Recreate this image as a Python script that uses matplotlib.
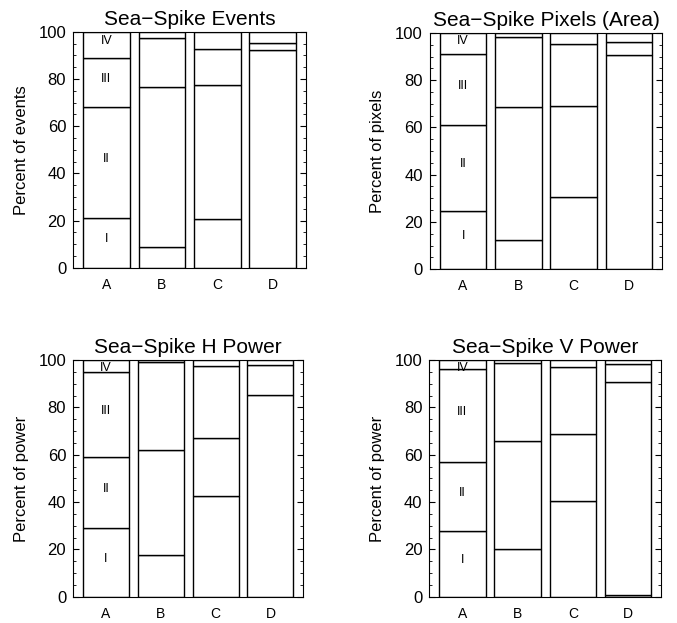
import matplotlib
matplotlib.use('Agg')
import numpy as np
import matplotlib.pyplot as plt
from matplotlib.ticker import MultipleLocator

plt.rcParams['font.family'] = ['Liberation Sans', 'DejaVu Sans']

categories = ['A', 'B', 'C', 'D']
classes = ['I', 'II', 'III', 'IV']

# segment percentages per class (rows I..IV), columns A..D
events = [[21.3, 8.7, 20.8, 0.0],
          [46.7, 67.8, 56.7, 92.4],
          [21.0, 20.8, 15.0, 2.7],
          [11.0, 2.7, 7.5, 4.9]]
pixels = [[24.7, 12.4, 30.4, 0.0],
          [36.5, 56.1, 38.5, 90.8],
          [30.0, 29.8, 26.4, 5.4],
          [8.8, 1.7, 4.7, 3.8]]
h_power = [[29.0, 17.6, 42.4, 0.0],
           [30.2, 44.4, 24.9, 85.2],
           [35.9, 37.3, 30.3, 12.8],
           [4.9, 0.7, 2.4, 2.0]]
v_power = [[27.9, 20.0, 40.3, 0.7],
           [29.1, 45.8, 28.3, 89.9],
           [39.3, 33.1, 28.6, 7.7],
           [3.7, 1.1, 2.8, 1.7]]

panels = [
    ('Sea\u2212Spike Events', 'Percent of events', events),
    ('Sea\u2212Spike Pixels (Area)', 'Percent of pixels', pixels),
    ('Sea\u2212Spike H Power', 'Percent of power', h_power),
    ('Sea\u2212Spike V Power', 'Percent of power', v_power),
]

fig = plt.figure(figsize=(6.77, 6.23), dpi=100)
boxes = [[0.108, 0.570, 0.344, 0.379],
         [0.635, 0.568, 0.343, 0.379],
         [0.108, 0.042, 0.340, 0.380],
         [0.634, 0.042, 0.343, 0.380]]

x = np.arange(len(categories))
for box, (title, ylabel, data) in zip(boxes, panels):
    ax = fig.add_axes(box)
    bottom = np.zeros(len(categories))
    for i, seg in enumerate(data):
        seg = np.array(seg)
        ax.bar(x, seg, width=0.84, bottom=bottom, color='white',
               edgecolor='black', linewidth=1.0)
        # class label inside bar A
        ypos = min(bottom[0] + seg[0] / 2 + 1.5, 96.5)
        ax.text(x[0], ypos, classes[i], ha='center', va='center', fontsize=9)
        bottom += seg
    ax.set_xlim(-0.6, 3.6)
    ax.set_ylim(0, 100)
    ax.set_xticks(x)
    ax.set_xticklabels(categories, fontsize=10)
    ax.tick_params(axis='x', length=0, pad=7)
    ax.yaxis.set_major_locator(MultipleLocator(20))
    ax.yaxis.set_minor_locator(MultipleLocator(5))
    ax.tick_params(axis='y', which='both', direction='in', right=True,
                   labelsize=12, pad=5)
    ax.tick_params(axis='y', which='major', length=4)
    ax.tick_params(axis='y', which='minor', length=2)
    ax.set_title(title, fontsize=15, pad=5)
    ax.set_ylabel(ylabel, fontsize=12, labelpad=7)

fig.savefig('out.png', dpi=100)
